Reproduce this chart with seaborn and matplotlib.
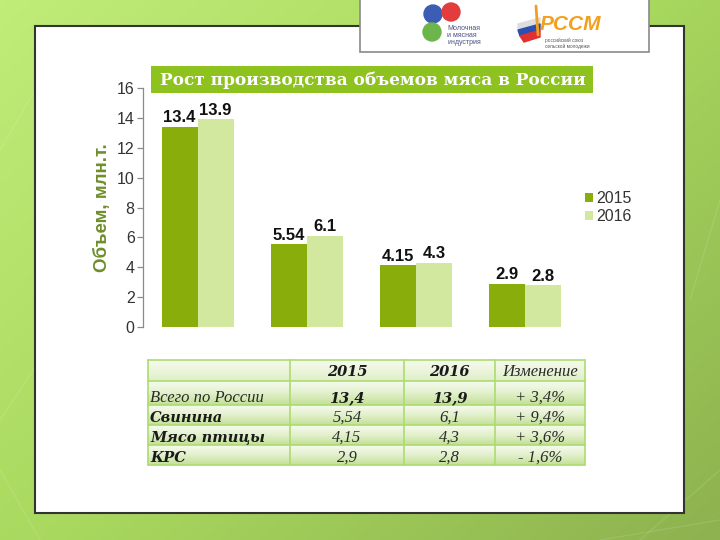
import numpy as np
import pandas as pd
import matplotlib
matplotlib.use("Agg")
import matplotlib.pyplot as plt
import seaborn as sns
from matplotlib.patches import Rectangle, Circle, Polygon
from matplotlib.colors import LinearSegmentedColormap

# ---------------- data ----------------
categories = ["Всего по России", "Свинина", "Мясо птицы", "КРС"]
years = ["2015", "2016"]
values_2015 = [13.4, 5.54, 4.15, 2.9]
values_2016 = [13.9, 6.1, 4.3, 2.8]
changes = ["+ 3,4%", "+ 9,4%", "+ 3,6%", "- 1,6%"]
yticks = [0, 2, 4, 6, 8, 10, 12, 14, 16]
title = "Рост производства объемов мяса в России"
ylabel = "Объем, млн.т."
table_header = ["", "2015", "2016", "Изменение"]
logo1_text = "Молочная\nи мясная\nиндустрия"
logo2_text = "РССМ"
logo2_sub = "российский союз\nсельской молодежи"

sns.set_theme(style="white")
plt.rcParams['font.family'] = ['Liberation Sans', 'DejaVu Sans']

fig = plt.figure(figsize=(7.2, 5.4), dpi=100)

# ---------------- background (pixel coords) ----------------
bg = fig.add_axes([0, 0, 1, 1], zorder=0)
xx, yy = np.meshgrid(np.linspace(0, 1, 240), np.linspace(0, 1, 180))
grad = 0.55 * xx + 0.45 * yy
cmap = LinearSegmentedColormap.from_list('g', ['#c0ec78', '#a8d85e', '#8db24f'])
bg.imshow(grad, extent=[0, 720, 540, 0], cmap=cmap, aspect='auto', zorder=0)
for (x0, y0, x1, y1) in [(0, 420, 60, 330), (0, 470, 40, 540), (640, 540, 720, 470),
                         (600, 540, 720, 520), (690, 300, 720, 200), (0, 150, 35, 90)]:
    bg.plot([x0, x1], [y0, y1], color='white', alpha=0.1, lw=1, zorder=0.5)
bg.set_xlim(0, 720)
bg.set_ylim(540, 0)
bg.axis('off')

# white panel
bg.add_patch(Rectangle((35, 26), 649, 487, fc='white', ec='#333333', lw=1.5, zorder=1))

# logo box
bg.add_patch(Rectangle((360, -3), 289, 55, fc='white', ec='#8a8a8a', lw=1.2, zorder=2))
bg.add_patch(Circle((433, 14), 9, color='#3b5db3', zorder=3))
bg.add_patch(Circle((451, 12), 9, color='#e23c3c', zorder=3))
bg.add_patch(Circle((432, 32), 9, color='#6cb54a', zorder=3))
bg.text(447, 25, logo1_text, fontsize=5, color='#4a5280', va='top', ha='left',
        linespacing=1.05, zorder=3)
bg.add_patch(Polygon([(518, 24), (540, 18), (540, 24), (518, 30)], color='#dddddd', zorder=3))
bg.add_patch(Polygon([(518, 30), (540, 24), (540, 30), (520, 36)], color='#2a4fb0', zorder=3))
bg.add_patch(Polygon([(520, 36), (540, 30), (540, 37), (524, 42)], color='#e03030', zorder=3))
bg.plot([536, 538], [6, 35], color='#f0a020', lw=2, zorder=3)
bg.text(540, 24, logo2_text, fontsize=15, fontweight='bold', style='italic', color='#f2a01e',
        va='center', ha='left', zorder=3)
bg.text(545, 38, logo2_sub, fontsize=3.4, color='#555555', va='top', ha='left',
        linespacing=1.1, zorder=3)

# title box
bg.add_patch(Rectangle((151, 66), 442, 27, fc='#8dc21f', ec='none', zorder=2))
bg.text(160, 80, title, fontsize=12.2, fontweight='bold', family='DejaVu Serif',
        color='white', va='center', ha='left', zorder=3)

# ---------------- table ----------------
col_edges = [148, 290, 404, 495, 585]
row_edges = [360, 381, 405, 425, 445, 465]
row_grad = np.linspace(0, 1, 50).reshape(-1, 1)
cmap_row = LinearSegmentedColormap.from_list('r', ['#f6fbee', '#e2f0cc', '#c3e096'])
for i in range(len(row_edges) - 1):
    top, bot = row_edges[i], row_edges[i + 1]
    g = row_grad * (0.55 if i == 0 else 1.0)
    bg.imshow(g, extent=[col_edges[0], col_edges[-1], bot, top], cmap=cmap_row,
              vmin=0, vmax=1, aspect='auto', zorder=2)
for y in row_edges:
    bg.plot([col_edges[0], col_edges[-1]], [y, y], color='#addb70', lw=1.2, zorder=3)
for x in col_edges:
    bg.plot([x, x], [row_edges[0], row_edges[-1]], color='#addb70', lw=1.2, zorder=3)
bg.set_xlim(0, 720)
bg.set_ylim(540, 0)

bold_it = dict(family='DejaVu Serif', style='italic', fontweight='bold', fontsize=10.5,
               color='#1a1a1a', zorder=4)
reg_it = dict(family='Liberation Serif', style='italic', fontsize=12, color='#2a2a2a', zorder=4)
col_centers = [(col_edges[j] + col_edges[j + 1]) / 2 for j in range(4)]
hy = (row_edges[0] + row_edges[1]) / 2 + 1.5
bg.text(col_centers[1], hy, table_header[1], ha='center', va='center', **bold_it)
bg.text(col_centers[2], hy, table_header[2], ha='center', va='center', **bold_it)
bg.text(col_centers[3], hy, table_header[3], ha='center', va='center', **reg_it)
for i, cat in enumerate(categories):
    cy = (row_edges[i + 1] + row_edges[i + 2]) / 2 + (5 if i == 0 else 3)
    first = (i == 0)
    bg.text(150, cy, cat, ha='left', va='center', **(reg_it if first else bold_it))
    v1 = f"{values_2015[i]:g}".replace('.', ',')
    v2 = f"{values_2016[i]:g}".replace('.', ',')
    bg.text(col_centers[1], cy, v1, ha='center', va='center', **(bold_it if first else reg_it))
    bg.text(col_centers[2], cy, v2, ha='center', va='center', **(bold_it if first else reg_it))
    bg.text(col_centers[3], cy, changes[i], ha='center', va='center', **reg_it)

# ---------------- bar chart ----------------
ax = fig.add_axes([143 / 720, 1 - 327 / 540, (580 - 143) / 720, 239 / 540], zorder=3)
ax.patch.set_alpha(0)
df = pd.DataFrame({
    'cat': categories * 2,
    'year': [years[0]] * len(categories) + [years[1]] * len(categories),
    'value': values_2015 + values_2016,
})
sns.barplot(data=df, x='cat', y='value', hue='year', hue_order=years,
            palette=['#89ad0b', '#d3e89f'], width=0.66, gap=0, saturation=1,
            edgecolor='none', ax=ax, legend=True)
for cont, vals in zip(ax.containers, [values_2015, values_2016]):
    ax.bar_label(cont, labels=[f"{v:g}" for v in vals], fontsize=12, fontweight='bold',
                 padding=1, color='#111111')
ax.set_ylim(0, 16)
ax.set_xlim(-0.5, 3.5)
ax.set_yticks(yticks)
ax.set_xticks([])
ax.set_xlabel('')
ax.set_ylabel(ylabel, fontsize=13.5, fontweight='bold', color='#6f8e2b')
ax.yaxis.set_label_coords(-0.073, 0.5)
for s in ['top', 'right', 'bottom']:
    ax.spines[s].set_visible(False)
ax.spines['left'].set_color('#8a8a8a')
ax.spines['left'].set_linewidth(0.9)
ax.tick_params(axis='y', direction='out', length=4, width=0.9, color='#8a8a8a',
               labelsize=11.5, labelcolor='#333333', pad=2, left=True)

handles, labels = ax.get_legend_handles_labels()
leg = ax.legend(handles, labels, loc='upper left', bbox_to_anchor=(585 / 720, 1 - 191 / 540),
                bbox_transform=fig.transFigure, frameon=False, fontsize=11.5,
                handlelength=0.5, handleheight=0.5, handletextpad=0.2,
                labelspacing=0.2, borderpad=0, borderaxespad=0)
for t in leg.get_texts():
    t.set_color('#333333')

fig.savefig('out.png', dpi=100)
